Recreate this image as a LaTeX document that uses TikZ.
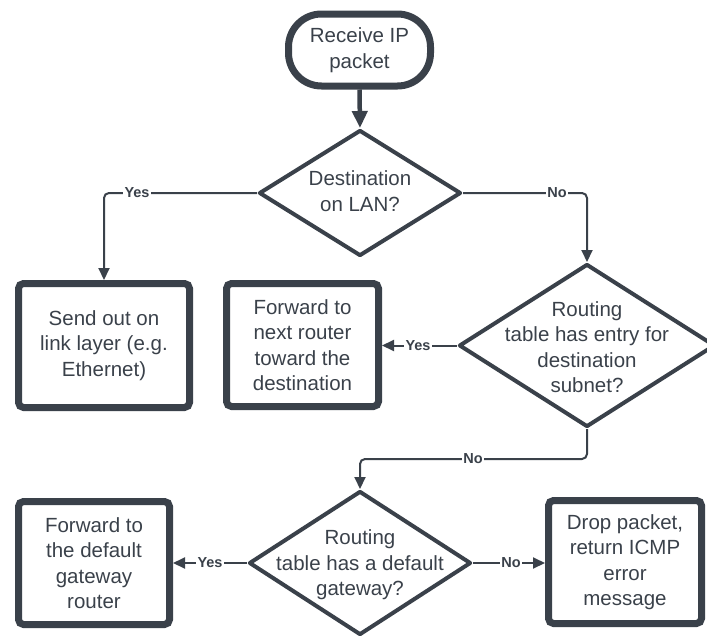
\documentclass[tikz,border=0pt]{standalone}
\usepackage{fontspec}
\setmainfont{Liberation Sans}
\usetikzlibrary{shapes.geometric,arrows.meta}
\definecolor{ink}{HTML}{3A414A}
\begin{document}
\begin{tikzpicture}[x=1pt,y=-1pt,
  every node/.style={text=ink, font=\fontsize{20.5}{25.5}\selectfont, align=center},
  term/.style={draw=ink, line width=7pt, rounded corners=33pt, minimum width=142pt, minimum height=72pt, inner sep=0pt, outer sep=3.5pt},
  proc/.style={draw=ink, line width=7pt, rounded corners=5pt, inner sep=0pt, outer sep=3.5pt},
  dec/.style={draw=ink, diamond, line width=4pt, inner sep=0pt, outer sep=2pt, line join=round},
  conn/.style={draw=ink, line width=2pt, rounded corners=5pt, -{Triangle[length=12pt,width=11pt]}},
  lbl/.style={fill=white, font=\fontsize{14.5}{16}\selectfont\bfseries, inner sep=1.5pt}
]
\useasboundingbox (0,0) rectangle (707,637);

% shapes
\node[term] (start) at (359.5,50) {Receive IP\\packet};
\node[dec, minimum width=202pt, minimum height=126pt] (d1) at (360,193) {};
\node (t1) at (360,191) {Destination\\on LAN?};
\node[proc, minimum width=171pt, minimum height=124pt] (box1) at (104,345.5) {Send out on\\link layer (e.g.\\Ethernet)};
\node[proc, minimum width=152pt, minimum height=123pt] (box2) at (302.5,345) {Forward to\\next router\\toward the\\destination};
\node[dec, minimum width=256pt, minimum height=163pt] (d2) at (587,345.5) {};
\node (t2) at (587,347) {Routing\\table has entry for\\destination\\subnet?};
\node[dec, minimum width=222pt, minimum height=144pt] (d3) at (360,563) {};
\node (t3) at (360,565) {Routing\\table has a default\\gateway?};
\node[proc, minimum width=151pt, minimum height=123pt] (box3) at (94,563) {Forward to\\the default\\gateway\\router};
\node[proc, minimum width=153pt, minimum height=123pt] (box4) at (625,562) {Drop packet,\\return ICMP\\error\\message};

% connectors
\draw[draw=ink, line width=4.5pt, -{Triangle[length=17pt,width=15pt]}] (start.south) -- (d1.north);
\draw[conn] (d1.west) -| (box1.north);
\draw[conn] (d1.east) -| (d2.north);
\draw[conn] (d2.west) -- (d2.west -| box2.east);
\coordinate (elbow) at (587,459);
\draw[conn] (d2.south) -- (elbow) -| (d3.north);
\draw[conn] (d3.west) -- (d3.west -| box3.east);
\draw[conn] (d3.east) -- (d3.east -| box4.west);

% labels
\node[lbl] (ly1) at (137,193) {Yes};
\node[lbl] (ln1) at (557,193) {No};
\node[lbl] (ly2) at (418,346) {Yes};
\node[lbl] (ln2) at (473,459) {No};
\node[lbl] (ly3) at (210,563) {Yes};
\node[lbl] (ln3) at (511,563) {No};
\end{tikzpicture}
\end{document}
